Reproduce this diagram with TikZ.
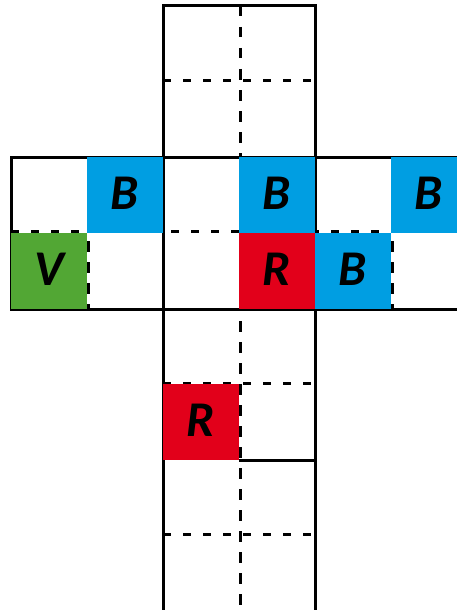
\documentclass[tikz,border=0pt]{standalone}
\usepackage{fontspec}
\setmainfont{Carlito}
\definecolor{cblue}{RGB}{0,158,226}
\definecolor{cred}{RGB}{226,0,26}
\definecolor{cgreen}{RGB}{82,167,52}
\begin{document}
\begin{tikzpicture}[x=1pt,y=-1pt,
  solidline/.style={line width=3pt, line join=miter},
  hdash/.style={line width=2.6pt, dash pattern=on 8pt off 12pt},
  vdash/.style={line width=2.6pt, dash pattern=on 10.5pt off 10.5pt},
  cell/.style={inner sep=0pt, outer sep=0pt, minimum width=76pt, minimum height=76pt,
    text depth=4pt, font=\fontsize{50}{50}\selectfont\bfseries\itshape},
]
\fill[white] (0,0) rectangle (456,610);
\useasboundingbox (0,0) rectangle (456,610);
% dashed inner lines
\draw[vdash] (240.3,6) -- (240.3,612);
\draw[hdash] (163,80.2) -- (315,80.2);
\draw[hdash] (11,231.7) -- (458,231.7);
\draw[hdash] (163,383.3) -- (315,383.3);
\draw[hdash] (163,534.2) -- (315,534.2);
\draw[vdash] (88.3,157) -- (88.3,309);
\draw[vdash] (392.3,157) -- (392.3,309);
% solid face borders
\draw[solidline] (163,612) -- (163,6) -- (315,6) -- (315,612);
\draw[solidline] (458,157) -- (11,157) -- (11,309) -- (458,309);
\draw[solidline] (239,460) -- (315,460);
% coloured cells
\node[cell, fill=cblue] (b1) at (125,195) {B};
\node[cell, fill=cblue] (b2) at (277,195) {B};
\node[cell, fill=cblue] (b3) at (429,195) {B};
\node[cell, fill=cgreen] (v1) at (49,271) {V};
\node[cell, fill=cred] (r1) at (277,271) {R};
\node[cell, fill=cblue] (b4) at (353,271) {B};
\node[cell, fill=cred] (r2) at (201,422) {R};
\end{tikzpicture}
\end{document}
